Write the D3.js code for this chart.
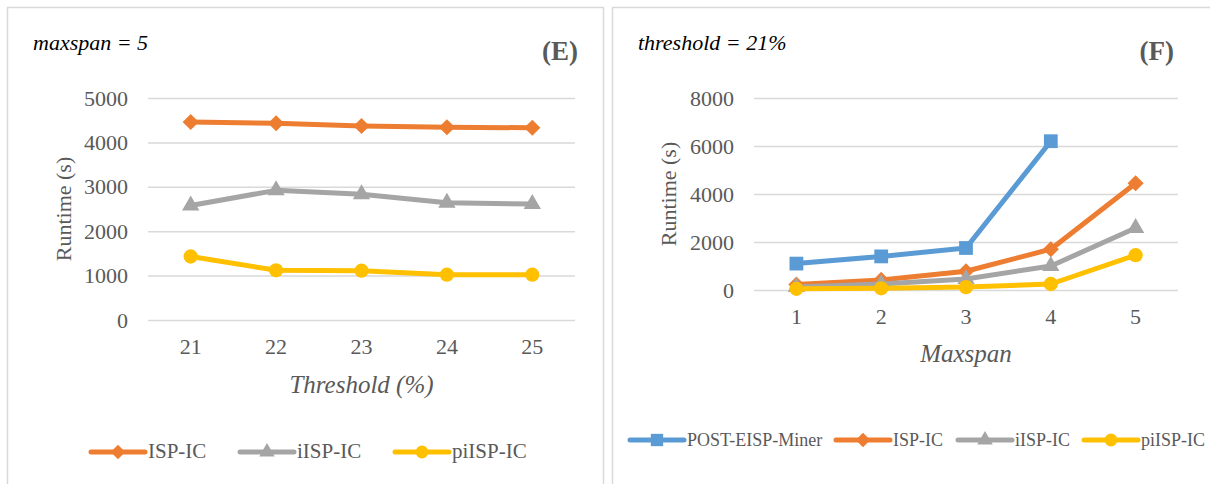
<!DOCTYPE html>
<html>
<head>
<meta charset="utf-8">
<script src="https://cdn.jsdelivr.net/npm/d3@7"></script>
<style>
  html, body { margin: 0; padding: 0; background: #fff; }
  svg { display: block; }
  svg text { font-family: "Liberation Serif", "Times New Roman", "DejaVu Serif", serif; }
</style>
</head>
<body>
<svg id="chart" width="1210" height="484"></svg>
<script>
// Panel E: runtime vs. threshold (maxspan = 5)
const thresholds = ["21", "22", "23", "24", "25"];
const ispE   = [4460, 4430, 4370, 4340, 4330];
const iispE  = [2580, 2920, 2830, 2640, 2610];
const piispE = [1430, 1120, 1110, 1020, 1020];
const ticksE = [0, 1000, 2000, 3000, 4000, 5000];

// Panel F: runtime vs. maxspan (threshold = 21%)
const maxspans = ["1", "2", "3", "4", "5"];
const postF  = [1100, 1400, 1750, 6200, null];
const ispF   = [230, 420, 780, 1700, 4450];
const iispF  = [130, 250, 460, 1000, 2580];
const piispF = [50, 70, 120, 250, 1450];
const ticksF = [0, 2000, 4000, 6000, 8000];

const COLORS = { post: "#5b9bd5", isp: "#ed7d31", iisp: "#a5a5a5", piisp: "#ffc000" };
const SERIF = "Liberation Serif, Times New Roman, DejaVu Serif, serif";

const svg = d3.select("#chart");

// Marker glyphs: square, square-diamond (rotated square), triangle, circle
function marker(g, shape, x, y, color, scale = 1) {
  const sym = {
    square: d3.symbolSquare, diamond: d3.symbolSquare,
    triangle: d3.symbolTriangle, circle: d3.symbolCircle
  }[shape];
  const size = { square: 190, diamond: 130, triangle: 130, circle: 160 }[shape] * scale;
  const rot = shape === "diamond" ? " rotate(45)" : "";
  g.append("path")
    .attr("d", d3.symbol().type(sym).size(size)())
    .attr("transform", `translate(${x},${y})${rot}`)
    .attr("fill", color);
}

function panel(cfg) {
  const g = svg.append("g");
  // frame
  g.append("rect")
    .attr("x", cfg.frame[0] + 0.5).attr("y", 7.5)
    .attr("width", cfg.frame[1] - cfg.frame[0]).attr("height", 520)
    .attr("fill", "#fff").attr("stroke", "#d9d9d9").attr("stroke-width", 1.5);

  const x = d3.scaleBand().domain(cfg.cats).range([cfg.left, cfg.right]);
  const y = d3.scaleLinear().domain([0, cfg.max]).range([cfg.bottom, cfg.top]);

  // gridlines + tick labels via axis
  const yAxis = d3.axisLeft(y).tickValues(cfg.ticks).tickFormat(d3.format("d"))
    .tickSize(-(cfg.right - cfg.left)).tickPadding(20);
  const ya = g.append("g").attr("transform", `translate(${cfg.left},0)`).call(yAxis)
    .attr("font-family", SERIF).attr("font-size", 22);
  ya.select(".domain").remove();
  ya.selectAll("line").attr("stroke", "#d9d9d9").attr("stroke-width", 1.5);
  ya.selectAll("text").attr("fill", "#595959");

  const xAxis = d3.axisBottom(x).tickSize(0).tickPadding(18);
  const xa = g.append("g").attr("transform", `translate(0,${cfg.bottom})`).call(xAxis)
    .attr("font-family", SERIF).attr("font-size", 22);
  xa.select(".domain").remove();
  xa.selectAll("text").attr("fill", "#595959");

  // series
  const cx = c => x(c) + x.bandwidth() / 2;
  cfg.series.forEach(s => {
    const pts = cfg.cats.map((c, i) => [c, s.values[i]]).filter(d => d[1] != null);
    g.append("path")
      .attr("d", d3.line().x(d => cx(d[0])).y(d => y(d[1]))(pts))
      .attr("fill", "none").attr("stroke", s.color).attr("stroke-width", 5)
      .attr("stroke-linejoin", "round");
    pts.forEach(d => marker(g, s.shape, cx(d[0]), y(d[1]), s.color));
  });

  // titles
  g.append("text").attr("x", cfg.frame[0] + 26).attr("y", 50)
    .attr("font-style", "italic").attr("font-size", 22)
    .attr("fill", "#000").text(cfg.note);
  g.append("text").attr("x", cfg.tagX).attr("y", 60).attr("text-anchor", "end")
    .attr("font-weight", "bold").attr("font-size", 27)
    .attr("fill", "#595959").text(cfg.tag);
  g.append("text")
    .attr("transform", `translate(${cfg.frame[0] + 64},${(cfg.top + cfg.bottom) / 2}) rotate(-90)`)
    .attr("text-anchor", "middle")
    .attr("font-size", 22).attr("fill", "#595959").text("Runtime (s)");
  g.append("text").attr("x", (cfg.left + cfg.right) / 2).attr("y", cfg.xTitleY)
    .attr("text-anchor", "middle")
    .attr("font-style", "italic").attr("font-size", 25)
    .attr("fill", "#595959").text(cfg.xTitle);

  // legend
  cfg.series.forEach((s, i) => {
    const lx = cfg.legendX[i], ly = cfg.legendY;
    g.append("line").attr("x1", lx).attr("x2", lx + 54).attr("y1", ly).attr("y2", ly)
      .attr("stroke", s.color).attr("stroke-width", 5).attr("stroke-linecap", "round");
    marker(g, s.shape, lx + 27, ly, s.color, 0.8);
    g.append("text").attr("x", lx + 57).attr("y", ly + 6)
      .attr("font-size", cfg.legendFont).attr("fill", "#595959").text(s.name);
  });
}

panel({
  frame: [7, 603],
  cats: thresholds, max: 5000, ticks: ticksE,
  left: 148, right: 575, top: 98, bottom: 320,
  note: "maxspan = 5", tag: "(E)", tagX: 578,
  xTitle: "Threshold (%)", xTitleY: 393,
  legendX: [91, 240, 395], legendY: 452, legendFont: 21,
  series: [
    { name: "ISP-IC", values: ispE, color: COLORS.isp, shape: "diamond" },
    { name: "iISP-IC", values: iispE, color: COLORS.iisp, shape: "triangle" },
    { name: "piISP-IC", values: piispE, color: COLORS.piisp, shape: "circle" }
  ]
});

panel({
  frame: [612, 1240],
  cats: maxspans, max: 8000, ticks: ticksF,
  left: 754, right: 1178, top: 98, bottom: 290,
  note: "threshold = 21%", tag: "(F)", tagX: 1174,
  xTitle: "Maxspan", xTitleY: 362,
  legendX: [630, 836, 958, 1084], legendY: 440, legendFont: 18,
  series: [
    { name: "POST-EISP-Miner", values: postF, color: COLORS.post, shape: "square" },
    { name: "ISP-IC", values: ispF, color: COLORS.isp, shape: "diamond" },
    { name: "iISP-IC", values: iispF, color: COLORS.iisp, shape: "triangle" },
    { name: "piISP-IC", values: piispF, color: COLORS.piisp, shape: "circle" }
  ]
});
</script>
</body>
</html>
